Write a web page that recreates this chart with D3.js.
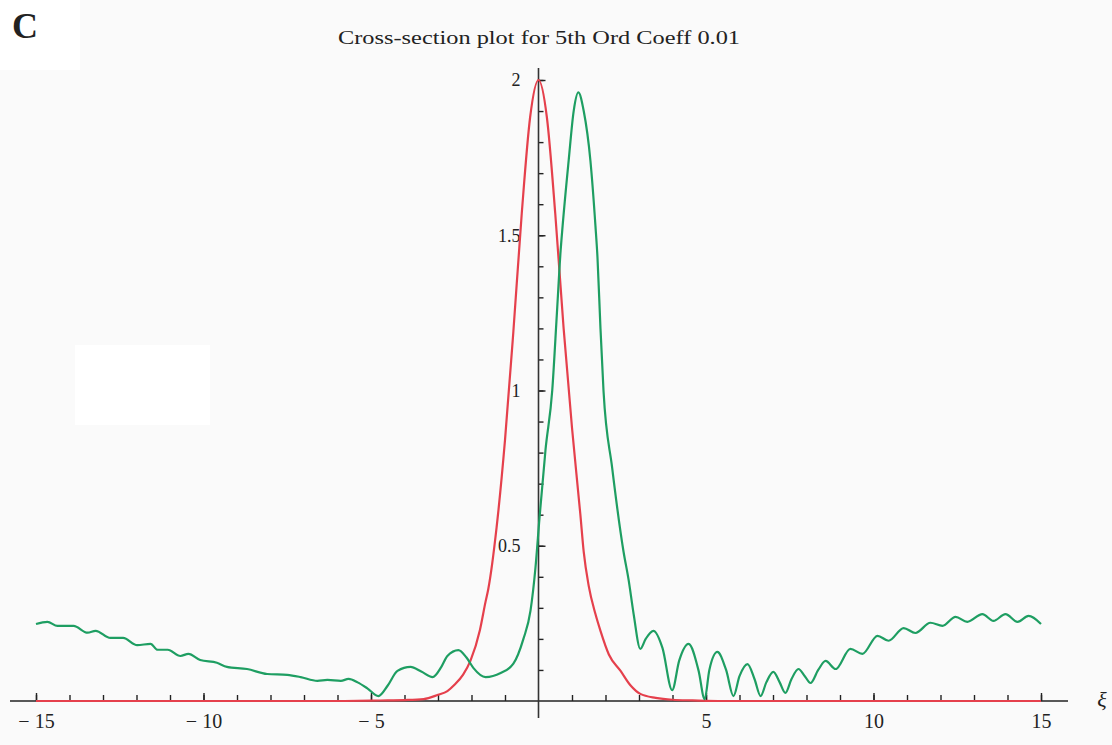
<!DOCTYPE html>
<html>
<head>
<meta charset="utf-8">
<script src="https://cdn.jsdelivr.net/npm/d3@7"></script>
<style>
  body { margin: 0; background: #fafafa; }
  #viz svg { display: block; }
</style>
</head>
<body>
<div id="viz"></div>
<script>
// values
const redX = [-15, -6, -5, -4.5, -4, -3.43, -3, -2.72, -2.5, -2.25, -2.03, -1.75, -1.58, -1.5, -1.25, -1, -0.75, -0.5, -0.25, 0,
              0.25, 0.5, 0.75, 1, 1.25, 1.35, 1.5, 1.7, 1.85, 2.1, 2.45, 2.75, 3.04, 3.5, 4, 4.6, 5.5, 15];
const redY = [0, 0, 0.001, 0.002, 0.003, 0.006, 0.02, 0.032, 0.053, 0.085, 0.13, 0.228, 0.32, 0.36, 0.56, 0.84, 1.19, 1.57, 1.88, 2,
              1.88, 1.57, 1.2, 0.88, 0.6, 0.48, 0.37, 0.28, 0.226, 0.15, 0.097, 0.05, 0.023, 0.01, 0.004, 0.002, 0, 0];

const greenX = [-15, -14.66, -14.36, -13.88, -13.46, -13.22, -12.78, -12.4, -11.98, -11.58, -11.37, -11.07, -10.69, -10.45, -10.1,
                -9.6, -9.3, -8.7, -8.1, -7.5, -7.1, -6.6, -6.3, -5.9, -5.67, -5.4, -5.1, -4.78, -4.5, -4.21, -3.82, -3.5,
                -3.16, -2.9, -2.72, -2.39, -2.15, -1.94, -1.58, -1.13, -0.75, -0.45, -0.24, -0.09, 0.03, 0.21, 0.41, 0.55,
                0.66, 0.72, 0.9, 1.05, 1.19, 1.35, 1.55, 1.7, 1.76, 1.85, 1.94, 2.2, 2.54, 2.69, 2.84, 3.04, 3.2, 3.43, 3.7,
                3.99, 4.2, 4.48, 4.78, 4.96, 5.1, 5.34, 5.6, 5.82, 6.0, 6.24, 6.45, 6.63, 6.8, 7.01, 7.2, 7.37, 7.55, 7.76,
                7.95, 8.12, 8.35, 8.57, 8.87, 9.31, 9.67, 10.12, 10.45, 10.9, 11.25, 11.7, 12.06, 12.45, 12.8, 13.25, 13.58,
                13.94, 14.3, 14.63, 15];
const greenY = [0.248, 0.255, 0.242, 0.242, 0.22, 0.226, 0.203, 0.203, 0.18, 0.184, 0.165, 0.165, 0.145, 0.152, 0.132,
                0.123, 0.11, 0.103, 0.087, 0.084, 0.077, 0.065, 0.068, 0.065, 0.071, 0.06, 0.04, 0.016, 0.05, 0.097, 0.11, 0.095,
                0.077, 0.11, 0.145, 0.164, 0.14, 0.106, 0.077, 0.09, 0.12, 0.2, 0.29, 0.43, 0.59, 0.81, 1.0, 1.25,
                1.45, 1.53, 1.74, 1.9, 1.96, 1.9, 1.74, 1.53, 1.43, 1.2, 1.0, 0.75, 0.48, 0.39, 0.28, 0.168, 0.2, 0.226, 0.171,
                0.035, 0.13, 0.184, 0.097, 0.006, 0.1, 0.158, 0.1, 0.016, 0.08, 0.119, 0.07, 0.016, 0.06, 0.094, 0.06, 0.026, 0.07, 0.103,
                0.08, 0.058, 0.1, 0.129, 0.103, 0.168, 0.152, 0.21, 0.194, 0.235, 0.219, 0.252, 0.242, 0.271, 0.255, 0.28, 0.258,
                0.28, 0.255, 0.274, 0.248];

const xMajor = [-15, -10, -5, 5, 10, 15];
const yMajor = [0.5, 1, 1.5, 2];

const width = 1112, height = 745;

const svg = d3.select('#viz')
    .append('svg')
    .attr('width', width)
    .attr('height', height);

// light patches like in the scan
svg.append('rect').attr('x', 0).attr('y', 0).attr('width', 80).attr('height', 70).attr('fill', '#ffffff');
svg.append('rect').attr('x', 75).attr('y', 345).attr('width', 135).attr('height', 80).attr('fill', '#ffffff');

const x = d3.scaleLinear().domain([-15, 15]).range([36, 1041]);
const y = d3.scaleLinear().domain([0, 2]).range([701, 80]);

// x axis: minor ticks every 1, labels at multiples of 5
const xMinor = d3.range(-15, 16).filter(d => d !== 0);
svg.append('g')
    .attr('transform', `translate(0,${y(0)})`)
    .call(d3.axisBottom(x).tickValues(xMinor).tickSize(-6).tickFormat(''))
    .call(g => g.select('.domain').remove())
    .call(g => g.selectAll('line').attr('stroke', '#222').attr('stroke-width', 1.4));

svg.append('g')
    .attr('transform', `translate(0,${y(0)})`)
    .call(d3.axisBottom(x).tickValues(xMajor).tickSize(-8)
        .tickFormat(d => d < 0 ? '\u2212 ' + Math.abs(d) : d))
    .call(g => g.select('.domain').remove())
    .call(g => g.selectAll('line').attr('stroke', '#222').attr('stroke-width', 1.4))
    .call(g => g.selectAll('text')
        .attr('y', 20)
        .attr('dy', '0.35em')
        .style('font-family', 'Liberation Serif, serif')
        .style('font-size', '20px')
        .attr('fill', '#222'));

svg.append('line')
    .attr('x1', 10).attr('x2', 1068)
    .attr('y1', y(0)).attr('y2', y(0))
    .attr('stroke', '#222').attr('stroke-width', 1.6);

// y axis: minor ticks every 0.1 on the right, labels on the left
const yMinor = d3.range(1, 21).map(d => d / 10);
svg.append('g')
    .attr('transform', `translate(${x(0)},0)`)
    .call(d3.axisRight(y).tickValues(yMinor).tickSize(5).tickFormat(''))
    .call(g => g.select('.domain').remove())
    .call(g => g.selectAll('line').attr('stroke', '#222').attr('stroke-width', 1.4));

svg.append('g')
    .attr('transform', `translate(${x(0)},0)`)
    .call(d3.axisRight(y).tickValues(yMajor).tickSize(7).tickFormat(d => d))
    .call(g => g.select('.domain').remove())
    .call(g => g.selectAll('line').attr('stroke', '#222').attr('stroke-width', 1.4))
    .call(g => g.selectAll('text')
        .attr('x', -18)
        .attr('text-anchor', 'end')
        .style('font-family', 'Liberation Serif, serif')
        .style('font-size', '18px')
        .attr('fill', '#222'));

svg.append('line')
    .attr('x1', x(0)).attr('x2', x(0))
    .attr('y1', 68).attr('y2', 718)
    .attr('stroke', '#333').attr('stroke-width', 1.6);

const line = d3.line()
    .x(d => x(d[0]))
    .y(d => y(d[1]))
    .curve(d3.curveMonotoneX);

svg.append('path')
    .datum(d3.zip(redX, redY))
    .attr('d', line)
    .attr('fill', 'none')
    .attr('stroke', '#e5404c')
    .attr('stroke-width', 2.2);

svg.append('path')
    .datum(d3.zip(greenX, greenY))
    .attr('d', line)
    .attr('fill', 'none')
    .attr('stroke', '#1e9e62')
    .attr('stroke-width', 2.2);

// labels
svg.append('text')
    .attr('x', 1102).attr('y', 707)
    .attr('text-anchor', 'middle')
    .style('font-family', 'Liberation Serif, serif')
    .style('font-style', 'italic')
    .style('font-size', '22px')
    .attr('fill', '#222')
    .text('\u03be');

svg.append('text')
    .attr('x', 338).attr('y', 44)
    .attr('textLength', 402)
    .attr('lengthAdjust', 'spacingAndGlyphs')
    .style('font-family', 'Liberation Serif, serif')
    .style('font-size', '19px')
    .attr('fill', '#222')
    .text('Cross-section plot for 5th Ord Coeff 0.01');

svg.append('text')
    .attr('x', 12).attr('y', 38)
    .style('font-family', 'Liberation Serif, serif')
    .style('font-weight', 'bold')
    .style('font-size', '36px')
    .attr('fill', '#222')
    .text('C');
</script>
</body>
</html>
